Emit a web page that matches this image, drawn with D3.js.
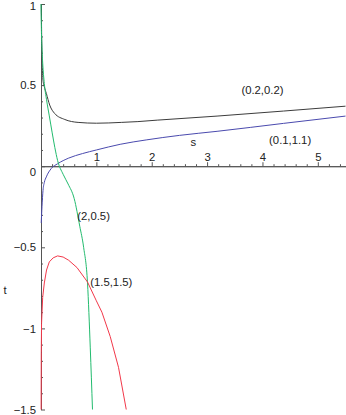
<!DOCTYPE html>
<html><head><meta charset="utf-8">
<script src="https://cdn.jsdelivr.net/npm/d3@7"></script>
<style>
html,body{margin:0;padding:0;background:#fff;}
svg{display:block;font-family:"Liberation Sans",Arial,sans-serif;}
</style></head>
<body>
<script>
// Data
const blackS = [0.006, 0.012, 0.02, 0.036, 0.06, 0.096, 0.157, 0.247, 0.43, 0.67, 1.0, 1.45, 1.75, 2.1, 3.18, 4.38, 5.5];
const blackT = [1.0, 0.8, 0.66, 0.53, 0.49, 0.449, 0.377, 0.325, 0.288, 0.27, 0.265, 0.27, 0.275, 0.284, 0.309, 0.34, 0.37];
const blueS = [0.004, 0.018, 0.036, 0.06, 0.096, 0.186, 0.3, 0.5, 0.75, 1.0, 1.43, 1.9, 2.5, 3.18, 4.38, 5.5];
const blueT = [-0.35, -0.25, -0.15, -0.1, -0.066, -0.014, 0.015, 0.05, 0.078, 0.1, 0.135, 0.162, 0.19, 0.215, 0.264, 0.309];
const greenS = [0, 0.005, 0.015, 0.03, 0.06, 0.1, 0.15, 0.2, 0.25, 0.3, 0.4, 0.49, 0.6, 0.7, 0.77, 0.84, 0.89, 0.93];
const greenT = [1.0, 0.88, 0.75, 0.64, 0.51, 0.41, 0.31, 0.21, 0.115, 0.035, -0.05, -0.11, -0.2, -0.37, -0.5, -0.72, -1.12, -1.5];
const redS = [0.002, 0.005, 0.01, 0.03, 0.06, 0.1, 0.15, 0.22, 0.3, 0.4, 0.5, 0.65, 0.84, 1.0, 1.1, 1.25, 1.4, 1.54];
const redT = [-1.5, -1.15, -0.97, -0.81, -0.72, -0.64, -0.59, -0.565, -0.553, -0.56, -0.58, -0.625, -0.714, -0.83, -0.9, -1.05, -1.24, -1.5];

const xTicks = [1, 2, 3, 4, 5];
const yTicks = [-1.5, -1, -0.5, 0.5, 1];
const seriesNames = ["(0.2,0.2)", "(0.1,1.1)", "(2,0.5)", "(1.5,1.5)"];
const labelPos = [[4.0, 0.47], [4.5, 0.16], [0.95, -0.31], [1.27, -0.715]];

const W = 346, H = 415;
const svg = d3.select("body").append("svg").attr("width", W).attr("height", H);
const x = d3.scaleLinear().domain([0, 5.5]).range([41, 345.5]);
const y = d3.scaleLinear().domain([-1.5, 1]).range([409.5, 4]);

const axisColor = "#555";
const fs = "11.3px";

// x axis
const xMinor = d3.range(1, 28).map(i => i * 0.2).filter(v => Math.abs(v - Math.round(v)) > 1e-6);
svg.append("g").attr("transform", `translate(0,${y(0)})`)
  .call(d3.axisTop(x).tickValues(xMinor).tickSizeInner(2).tickSizeOuter(0).tickFormat(""))
  .call(g => g.selectAll("line,path").attr("stroke", axisColor));
svg.append("g").attr("transform", `translate(0,${y(0)})`)
  .call(d3.axisTop(x).tickValues(xTicks).tickSizeInner(4).tickSizeOuter(0).tickPadding(1).tickFormat(d3.format("d")))
  .call(g => g.selectAll("line,path").attr("stroke", axisColor))
  .call(g => g.selectAll("text").attr("font-size", fs).attr("fill", "#222").attr("font-family", "Liberation Sans, Arial, sans-serif"));

// y axis
const yMinor = d3.range(-15, 11).map(i => i * 0.1).filter(v => Math.abs(v * 2 - Math.round(v * 2)) > 1e-6);
svg.append("g").attr("transform", `translate(${x(0)},0)`)
  .call(d3.axisLeft(y).tickValues(yMinor).tickSizeInner(-2).tickSizeOuter(0).tickFormat(""))
  .call(g => g.selectAll("line,path").attr("stroke", axisColor));
svg.append("g").attr("transform", `translate(${x(0)},0)`)
  .call(d3.axisLeft(y).tickValues(yTicks.concat([0])).tickSizeInner(-4).tickSizeOuter(0).tickPadding(5)
     .tickFormat(d => d === 0 ? "" : String(d).replace("-", "\u2212")))
  .call(g => g.selectAll("line,path").attr("stroke", axisColor))
  .call(g => g.selectAll("text").attr("font-size", fs).attr("fill", "#222").attr("font-family", "Liberation Sans, Arial, sans-serif"))
  .call(g => g.selectAll(".tick").filter(d => d === 1).select("text").attr("y", 1.8));

// origin label
svg.append("text").attr("x", x(0) - 5).attr("y", y(0) + 6).attr("dy", "0.32em")
  .attr("text-anchor", "end").attr("font-size", fs).attr("fill", "#222").text("0");

// axis titles
svg.append("text").attr("x", x(2.75)).attr("y", y(0.147)).attr("dy", "0.32em")
  .attr("text-anchor", "middle").attr("font-size", fs).attr("fill", "#222").text("s");
svg.append("text").attr("x", 5).attr("y", y(-0.767)).attr("dy", "0.32em")
  .attr("text-anchor", "middle").attr("font-size", fs).attr("fill", "#222").text("t");

// curves
const line = d3.line().x(d => x(d[0])).y(d => y(d[1])).curve(d3.curveMonotoneX);
const lineLin = d3.line().x(d => x(d[0])).y(d => y(d[1]));
const curves = [
  {s: blackS, t: blackT, c: "#3c3c3c", gen: line},
  {s: blueS, t: blueT, c: "#4a4aae", gen: line},
  {s: greenS, t: greenT, c: "#22bb6e", gen: line},
  {s: redS, t: redT, c: "#f2384a", gen: lineLin}
];
curves.forEach(cv => {
  svg.append("path").datum(d3.zip(cv.s, cv.t))
    .attr("d", cv.gen).attr("fill", "none").attr("stroke", cv.c).attr("stroke-width", 1);
});

// curve labels
seriesNames.forEach((n, i) => {
  svg.append("text").attr("x", x(labelPos[i][0])).attr("y", y(labelPos[i][1])).attr("dy", "0.32em")
    .attr("text-anchor", "middle").attr("font-size", fs).attr("fill", "#222").text(n);
});
</script>
</body></html>
